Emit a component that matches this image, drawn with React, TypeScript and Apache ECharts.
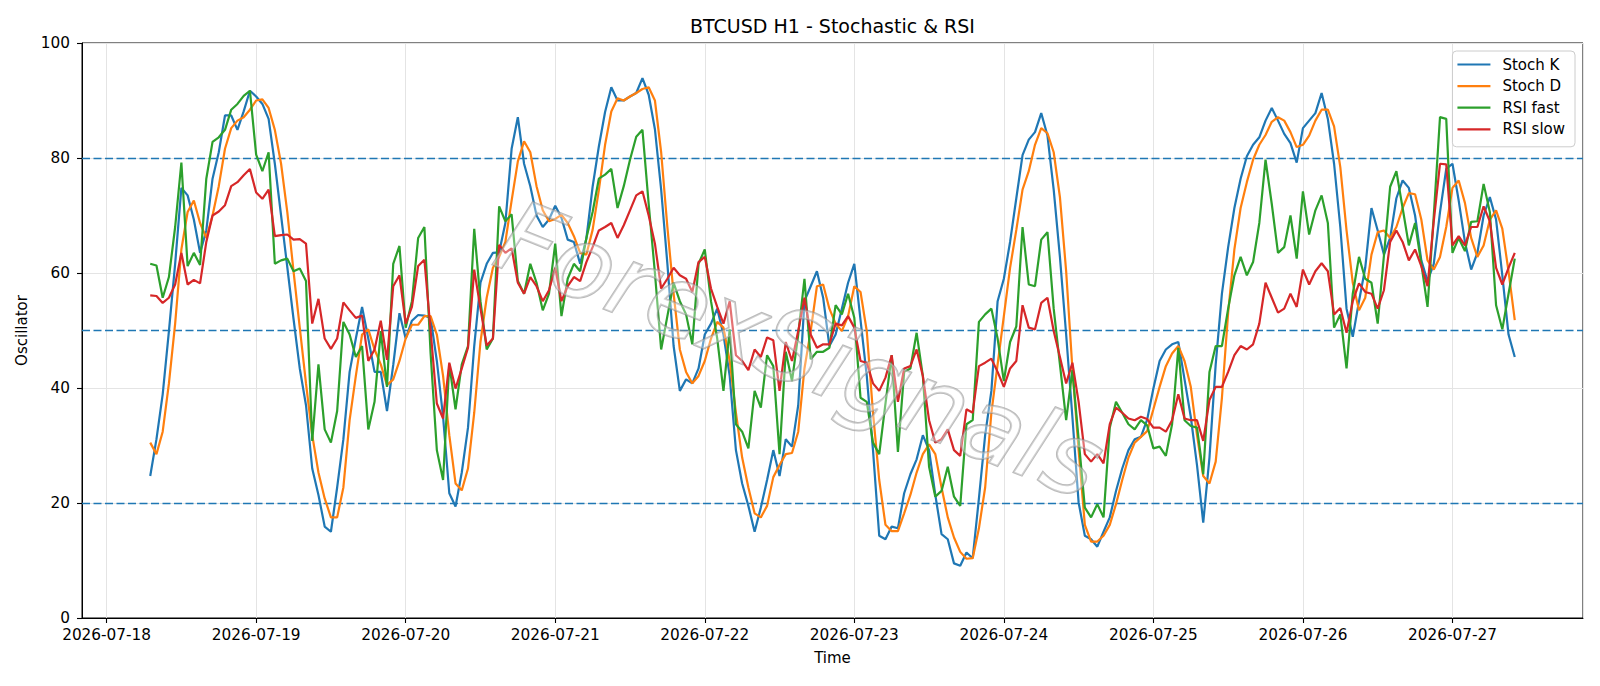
import React, { useEffect, useRef } from "react";
import * as echarts from "echarts";

// ---- Data (hourly, 2026-07-18 07:00 → 2026-07-27 10:00) ----
const START_YEAR = 2026;
const START_MONTH = 6; // July (0-based)
const START_DAY = 18;
const START_HOUR = 7;

const stochK = [
  24.7, 31.1, 38.9, 49.9, 61.6, 74.8, 73.5, 69.3, 63.5, 67.4,
  76.4, 81, 87.4, 87.4, 84.9, 88.1, 91.7, 90.7, 89.4, 86.8,
  79, 70, 61, 52, 43.4, 37, 26, 21.4, 15.9, 15,
  22.7, 31.1, 42.8, 48.6, 54.1, 48.6, 42.8, 42.8, 36, 44,
  53, 48.6, 51.7, 52.7, 52.6, 52.2, 44.7, 35, 21.7, 19.4,
  25.3, 33.1, 47.3, 58.3, 61.6, 63.5, 63.6, 68.7, 81.6, 87.1,
  79, 75.1, 70, 68, 69.3, 71.7, 69.6, 65.8, 65.4, 61.6,
  66, 75, 82, 88, 92.3, 90, 90, 90.7, 91.3, 93.9,
  91, 85, 74.5, 61.6, 47.3, 39.5, 41.5, 40.8, 43.4, 49.3,
  51.2, 53.8, 49.3, 42.1, 29.2, 23.4, 19.5, 15, 19.2, 24,
  29.2, 24.7, 31.1, 29.8, 37, 55.1, 57.7, 60.3, 55.7, 47.3,
  49.3, 53.8, 58.3, 61.6, 51.8, 42.1, 29.2, 14.3, 13.7, 15.9,
  15.6, 21.7, 25, 27.6, 31.8, 29.2, 21.4, 14.6, 13.7, 9.5,
  9.1, 11.4, 10.4, 20.8, 31.8, 39.5, 55.1, 59, 65.4, 73,
  80.5, 83.2, 84.5, 87.8, 83.9, 74.5, 62.8, 49.3, 35, 20.1,
  14.3, 13.7, 12.4, 15, 17.5, 22.1, 26, 29.2, 31.1, 31.5,
  34.5, 39.9, 44.7, 46.7, 47.6, 48, 41.5, 35, 26.6, 16.6,
  27.9, 44.1, 56.4, 64.5, 71.3, 76.4, 80.3, 82.3, 83.6, 86.5,
  88.7, 86.5, 84.2, 82.6, 79.2, 85.2, 86.5, 87.8, 91.3, 86.8,
  79, 68, 53.8, 48.9, 55.1, 60.9, 71.3, 67.4, 63.2, 66.1,
  73, 76.1, 74.8, 70, 62.2, 58.6, 61.6, 70.6, 78.1, 79,
  72.6, 65.4, 60.6, 63.5, 70, 73.2, 69.3, 59.6, 49.3, 45.4,
];

const stochD = [
  30.5, 28.5, 32.4, 40.8, 51.2, 64.1, 70.6, 72.6, 68.7, 66.1,
  70, 75.1, 81.6, 85.2, 86.5, 87.1, 88.4, 90, 90.2, 88.7,
  84.9, 79, 70.6, 60.3, 50.5, 40.8, 31.8, 25.3, 20.8, 17.5,
  17.5, 22.7, 34.4, 42.1, 49.3, 50.2, 46.7, 44.1, 40.5, 41.5,
  44.7, 48.6, 51, 51, 52.5, 52.5, 49.3, 42.1, 31.8, 23.4,
  22.2, 26, 35.7, 48, 55.7, 60.9, 62.8, 65.4, 72.6, 79.4,
  82.9, 81, 75.1, 70.9, 69, 69.4, 70.1, 68.7, 66.4, 63.5,
  63.2, 67.5, 74.4, 82.3, 88.1, 90.4, 90, 90.7, 91.3, 92,
  92.3, 90, 81, 68, 56.4, 46.7, 42.8, 40.8, 42.1, 44.7,
  48.6, 51.5, 50.5, 44.7, 35.7, 27.9, 22.7, 18.2, 17.5, 19.5,
  24.5, 26.6, 28.5, 28.7, 32.4, 43.4, 49.9, 57.7, 58, 53.8,
  51.2, 49.9, 52.5, 57.7, 56.7, 49.9, 35.7, 24, 16.2, 15.1,
  15.1, 18.2, 21.4, 25.3, 28.5, 30.2, 28.5, 22.7, 17.5, 14,
  11.5, 10.3, 10.4, 15.6, 22.7, 35.7, 44.1, 52.5, 60.9, 67.5,
  74.5, 77.7, 82.3, 85.2, 84.3, 81, 73.2, 60.3, 43.4, 29.2,
  16.2, 13.3, 13.3, 14.3, 16.2, 19.8, 24, 27.9, 30.5, 31.5,
  32.5, 36.3, 40.2, 43.8, 46, 47.3, 44.7, 40.2, 31.8, 24.7,
  23.4, 27.2, 38.3, 53.1, 64.1, 71.3, 75.8, 79.7, 82.3, 84,
  86.3, 87.1, 86.5, 84.5, 81.9, 82.3, 83.9, 86.5, 88.4, 88.4,
  85.5, 78.4, 67.4, 58.3, 53.5, 55.7, 63.2, 67.1, 67.4, 66.1,
  68, 71.3, 73.9, 73.7, 69.3, 62.2, 60.6, 62.8, 68, 74.8,
  76.1, 72.2, 66.1, 62.8, 64.8, 69.3, 70.9, 67.7, 60.3, 51.8,
];

const rsiFast = [
  61.6, 61.3, 55.7, 59.3, 68, 79.2, 61.2, 63.5, 61.4, 76.4,
  82.8, 83.6, 84.9, 88.4, 89.4, 90.8, 91.7, 80.6, 77.7, 81,
  61.6, 62.2, 62.5, 60.3, 60.8, 58.6, 30.8, 44.1, 32.8, 30.5,
  36, 51.5, 49.3, 45.4, 47.3, 32.8, 37.6, 49.9, 40.2, 61.6,
  64.7, 50.5, 55.1, 66.1, 68, 46, 29.2, 24, 44.1, 36.3,
  44.1, 47.3, 67.7, 55.1, 46.7, 48.6, 71.6, 69, 70.2, 58.6,
  56.4, 61.6, 58.3, 53.5, 56.4, 65.1, 52.5, 59, 61.6, 60.3,
  66.1, 70.6, 76.4, 77.1, 78.1, 71.3, 75.1, 79.7, 83.7, 84.9,
  72, 60, 46.7, 52.5, 58.3, 55.1, 52.8, 47.6, 61.6, 64.1,
  55.1, 48.6, 39.5, 50.2, 33.7, 32.4, 29.5, 39.5, 36.6, 45.7,
  43.8, 28.5, 46.3, 41.2, 49.3, 59, 45, 46.3, 46.3, 47,
  54.4, 52.8, 56.4, 52.2, 38.3, 37.6, 30.5, 28.5, 37.3, 45.7,
  28.9, 42.8, 43.4, 49.6, 42.1, 26.3, 21.1, 22.1, 26.3, 21.1,
  19.5, 33.7, 34.4, 51.5, 52.8, 53.8, 48.6, 41.2, 48, 50.7,
  68, 58, 57.7, 65.8, 67.1, 53.8, 44.1, 34.4, 43.1, 31.1,
  19.2, 17.5, 19.8, 17.5, 33.1, 37.6, 35.7, 33.7, 32.8, 34.4,
  33.5, 29.5, 29.8, 28.2, 33.7, 47, 34.4, 33.4, 33.1, 25,
  42.8, 47.3, 47.3, 53.8, 59.6, 62.8, 59.6, 61.9, 68.7, 79.7,
  72, 63.5, 64.5, 70, 62.5, 74.2, 66.7, 70.9, 73.5, 68.7,
  50.5, 52.8, 43.4, 56.4, 62.8, 59, 58.3, 51.2, 63, 75,
  77.7, 71.3, 64.8, 68.7, 61.6, 54.1, 70, 87.1, 86.8, 63.5,
  66.1, 63.8, 68.9, 69, 75.5, 70.6, 54.4, 50.2, 56.4, 62.5,
];

const rsiSlow = [
  56.1, 56, 54.8, 55.7, 58, 63.5, 58, 58.8, 58.2, 65.4,
  70, 70.7, 71.8, 75.1, 75.8, 77, 78.1, 74, 72.9, 74.5,
  66.4, 66.6, 66.7, 65.8, 65.9, 65.1, 51.2, 55.5, 48.6, 46.8,
  48.6, 54.9, 53.5, 52.2, 52.6, 44.7, 46.7, 51.7, 44.9, 57.7,
  59.6, 51.2, 54.1, 61.2, 62.3, 50, 37.3, 34.7, 44.4, 39.9,
  43.4, 47, 60.6, 53.8, 47.4, 48.6, 64.9, 63.5, 64.3, 58.3,
  56.4, 59.3, 57.7, 55.1, 57, 60.9, 55.1, 57.7, 59.3, 58.6,
  61.9, 64.5, 67.4, 68, 68.7, 66.1, 68.3, 70.9, 73.5, 74.2,
  70, 65.1, 57.3, 59, 60.9, 59.6, 59, 56.7, 61.9, 62.8,
  57.3, 54.1, 51.2, 55.1, 45.7, 44.7, 43.1, 46.7, 45.4, 48.8,
  48.3, 39.5, 48, 44.7, 49.9, 55.7, 49.3, 47, 47.6, 47.6,
  51.2, 50.9, 52.5, 50.5, 44.7, 44.4, 40.8, 39.5, 41.8, 45.7,
  37.6, 43.4, 43.8, 46.7, 42.1, 34.4, 30.5, 31.1, 32.8, 29.2,
  28.2, 36.3, 35.7, 43.8, 44.4, 45.1, 42.8, 40.2, 43.4, 44.7,
  54.4, 50.5, 50.2, 54.8, 55.7, 49.9, 45.4, 40.8, 44.4, 37.6,
  28.5, 27.2, 28.5, 26.9, 33.7, 36.6, 35.7, 34.7, 34.4, 35,
  34.6, 33.1, 33.1, 32.4, 34.4, 38.9, 34.7, 34.4, 34.4, 30.8,
  37.9, 40.2, 40.2, 42.8, 45.7, 47.3, 46.7, 47.6, 51.2, 58.3,
  55.7, 53.1, 53.8, 56.4, 54.1, 60.6, 58, 60.3, 61.7, 60.3,
  52.8, 53.9, 49.6, 55.1, 58.2, 56.7, 56.4, 53.8, 57, 65.4,
  67.4, 65.4, 62.2, 64.1, 61.2, 57.7, 69, 79, 78.9, 64.8,
  66.4, 64.8, 68, 68, 71.6, 69, 60.9, 58, 60.9, 63.5,
];

const levels = [20, 50, 80];
const yTicks = { min: 0, max: 100, interval: 20 };
const seriesNames = ["Stoch K", "Stoch D", "RSI fast", "RSI slow"];
const seriesColors = ["#1f77b4", "#ff7f0e", "#2ca02c", "#d62728"];
const TITLE = "BTCUSD H1 - Stochastic & RSI";
const WATERMARK = "ForexSignals";

const HOUR = 3600 * 1000;
const DAY = 24 * HOUR;

function pad(n: number) {
  return n < 10 ? "0" + n : "" + n;
}

export default function App() {
  const ref = useRef<HTMLDivElement>(null);

  useEffect(() => {
    if (!ref.current) return;
    const chart = echarts.init(ref.current, null, { renderer: "svg" });

    const start = new Date(START_YEAR, START_MONTH, START_DAY, START_HOUR).getTime();
    const n = stochK.length;
    const times = stochK.map((_, i) => start + i * HOUR);
    const span = (n - 1) * HOUR;
    const xMin = start - span * 0.05;
    const xMax = start + span * 1.05;

    const all = [stochK, stochD, rsiFast, rsiSlow];

    const series: any[] = all.map((arr, k) => ({
      name: seriesNames[k],
      type: "line",
      data: arr.map((v, i) => [times[i], v]),
      showSymbol: false,
      symbol: "none",
      legendIcon: "rect",
      lineStyle: { width: 2.2, color: seriesColors[k] },
      itemStyle: { color: seriesColors[k] },
      z: 3 + k,
      markLine:
        k === 0
          ? {
              silent: true,
              symbol: "none",
              label: { show: false },
              lineStyle: { color: "#1f77b4", type: [8, 3.5], width: 1.4 },
              data: levels.map((l) => ({ yAxis: l })),
              z: 2,
            }
          : undefined,
    }));

    const plotLeft = 82;
    const plotRight = 1583;
    const plotTop = 43;
    const plotBottom = 618;

    chart.setOption({
      animation: false,
      backgroundColor: "#ffffff",
      textStyle: { fontFamily: "DejaVu Sans" },
      grid: {
        left: plotLeft,
        right: 1600 - plotRight,
        top: plotTop,
        bottom: 686 - plotBottom,
        containLabel: false,
        outerBoundsMode: "none",
        show: true,
        borderColor: "#000",
        borderWidth: 1,
      },
      legend: {
        orient: "vertical",
        right: 1600 - 1575,
        top: 51,
        icon: "rect",
        itemWidth: 33,
        itemHeight: 2.2,
        itemGap: 4.6,
        padding: [5, 10, 9, 5],
        backgroundColor: "rgba(255,255,255,0.8)",
        borderColor: "#cccccc",
        borderWidth: 1,
        borderRadius: 4,
        textStyle: {
          fontSize: 15,
          color: "#000",
          fontFamily: "DejaVu Sans",
          lineHeight: 17,
          padding: [0, 0, 0, 7],
        },
        data: seriesNames,
      },
      xAxis: {
        type: "time",
        min: xMin,
        max: xMax,
        minInterval: DAY,
        maxInterval: DAY,
        name: "Time",
        nameLocation: "middle",
        nameGap: 32,
        nameTextStyle: { fontSize: 15, color: "#000", fontFamily: "DejaVu Sans" },
        axisLine: { show: true, lineStyle: { color: "#000", width: 1 } },
        axisTick: { show: true, length: 5, lineStyle: { color: "#000", width: 1.1 } },
        axisLabel: {
          fontSize: 15.3,
          color: "#000",
          margin: 9,
          fontFamily: "DejaVu Sans",
          formatter: (val: number) => {
            const d = new Date(val);
            return `${d.getFullYear()}-${pad(d.getMonth() + 1)}-${pad(d.getDate())}`;
          },
        },
        splitLine: { show: true, lineStyle: { color: "#e4e4e4", width: 1 } },
      },
      yAxis: {
        type: "value",
        min: yTicks.min,
        max: yTicks.max,
        interval: yTicks.interval,
        name: "Oscillator",
        nameLocation: "middle",
        nameGap: 48,
        nameRotate: 90,
        nameTextStyle: { fontSize: 15, color: "#000", fontFamily: "DejaVu Sans" },
        axisLine: { show: true, lineStyle: { color: "#000", width: 1 } },
        axisTick: { show: true, length: 5, lineStyle: { color: "#000", width: 1.1 } },
        axisLabel: { fontSize: 15.3, color: "#000", margin: 12, fontFamily: "DejaVu Sans" },
        splitLine: { show: true, lineStyle: { color: "#e4e4e4", width: 1 } },
      },
      graphic: [
        {
          type: "text",
          x: (plotLeft + plotRight) / 2,
          y: 25.5,
          style: {
            text: TITLE,
            fontSize: 19,
            fontFamily: "DejaVu Sans",
            fill: "#000",
            textAlign: "center",
            textVerticalAlign: "middle",
          },
          z: 10,
        },
        {
          type: "text",
          x: 800,
          y: 350,
          rotation: -0.38,
          style: {
            text: WATERMARK,
            fontSize: 100,
            fontStyle: "italic",
            fontWeight: 200,
            fontFamily: "DejaVu Sans",
            fill: "rgba(255,255,255,0.35)",
            stroke: "rgba(140,140,140,0.6)",
            lineWidth: 2,
            textAlign: "center",
            textVerticalAlign: "middle",
          },
          z: 100,
          silent: true,
        },
      ],
      series,
    });

    return () => chart.dispose();
  }, []);

  return (
    <div
      ref={ref}
      style={{ position: "absolute", left: 0, top: 0, width: 1600, height: 686 }}
    />
  );
}
